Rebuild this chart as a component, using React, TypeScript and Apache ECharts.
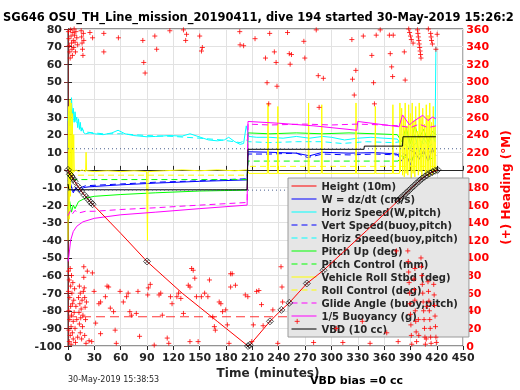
import React, { useEffect, useRef } from "react";
import * as echarts from "echarts";

// ---------- data (time in minutes) ----------
const depthProfile: [number, number][] = [
  [0, 0], [2, -2.5], [4, -3.5], [6, -5], [7.5, -6.5], [11.5, -9.5], [15, -12], [19, -14.5], [22.5, -16.5], [26, -18.5], [28, -19.5],
  [60, -36], [90, -52], [130, -70], [170, -86], [205, -100], [207, -99.5], [230, -86], [243, -79.5], [252, -75.5], [272, -64.5],
  [291, -57], [340, -34.5], [376, -17.5], [379, -16], [382, -14.6], [385, -13.2], [388, -11.8], [391, -10.4], [394, -9], [397, -7.6],
  [400, -6.3], [403, -5], [406, -3.9], [409, -2.9], [412, -2], [415, -1.2], [418, -0.5], [421, 0],
];
const gcTimes = [0, 2, 4, 6, 7.5, 11.5, 15, 19, 22.5, 26, 28, 90, 205, 207, 230, 243, 252, 272, 291, 376, 379, 382, 385, 388, 391, 394, 397, 400, 403, 406, 409, 412, 415, 418, 421];

const wSpeed: [number, number][] = [
  [0, 0], [3, -8], [6, -13], [9, -10], [13, -12.5], [18, -10], [24, -9.6], [60, -8.5], [100, -7.5], [150, -6.5], [204, -5.7],
  [205, 10.3], [230, 10], [260, 9.5], [275, 8], [290, 10], [320, 9.5], [350, 9.8], [375, 9], [380, 5], [385, 9], [390, 3],
  [395, 10], [400, 6], [405, 11], [410, 5], [415, 12], [419, 8],
];
const horizSpeedW: [number, number][] = [
  [0, 28], [1, 33], [2, 25], [3, 30], [4, 41], [5, 31], [6, 35], [7, 27], [8, 33], [9, 28], [10, 30], [11, 24], [12, 29], [13, 23],
  [14, 27], [15, 22], [16, 24], [18, 21], [20, 20.5], [25, 21], [30, 20.5], [40, 20], [50, 21], [57, 22.5], [65, 20.5], [75, 19.5],
  [90, 18.8], [100, 19], [115, 19.5], [130, 19.2], [139, 20.5], [148, 19], [160, 17], [170, 16.5], [178, 17], [183, 18.5],
  [190, 16], [196, 14.5], [200, 15], [203, 25], [206, 19], [215, 18.5], [230, 18.5], [245, 18], [260, 19], [275, 18], [290, 19],
  [300, 18.5], [315, 17], [330, 18], [345, 18.5], [360, 18], [375, 17.5], [380, 14], [385, 22], [390, 12], [395, 20], [400, 10],
  [405, 18], [410, 14], [415, 20], [418, 16], [419, 70],
];
const vertSpeedBuoy: [number, number][] = [
  [0, -6], [5, -12], [10, -11], [20, -9], [60, -8], [100, -7], [150, -6.2], [204, -5], [205, 9], [230, 9], [260, 9.5],
  [273, 7], [290, 9], [320, 8.5], [350, 9], [375, 8.5], [380, 10], [385, 8], [390, 11], [400, 9], [410, 10], [419, 11],
];
const horizSpeedBuoy: [number, number][] = [
  [0, 30], [3, 35], [6, 29], [10, 27], [14, 24], [20, 21.5], [40, 20.5], [60, 20.5], [90, 19.5], [120, 19], [150, 18],
  [175, 17], [196, 15.5], [204, 17], [206, 16], [230, 15.5], [260, 16], [290, 16], [312, 15], [340, 16], [370, 15.5],
  [380, 16], [390, 12], [400, 17], [410, 13], [419, 16],
];
const pitchUp: [number, number][] = [
  [0, -22], [2, -18], [4, -24], [6, -20], [8, -22], [12, -18], [20, -16], [30, -15], [60, -14], [100, -13], [150, -12],
  [204, -11.5], [205, 21], [230, 20.5], [260, 21], [290, 20.5], [320, 21], [350, 20.5], [375, 20], [380, 16], [385, 24],
  [390, 15], [395, 25], [400, 18], [405, 23], [410, 16], [415, 22], [419, 20],
];
const pitchControl: [number, number][] = [
  [0, -3], [2, -7], [5, -5.5], [204, -5.5], [205, 5], [376, 5], [380, 8], [390, 6], [400, 9], [410, 6], [419, 7],
];
const rollStbd: [number, number][] = [
  [0, -40], [0.7, 36], [1.4, -28], [2.1, 40], [2.8, -15], [3.5, 38], [4.2, -5], [4.9, 32], [5.6, -2], [6.5, 20], [7.2, -1],
  [9, 0], [12, -1], [16, 0], [20, -1], [20.6, 10], [21.2, -0.5], [30, -1], [45, -0.5], [60, -1], [75, -0.5], [89.5, -1],
  [90.5, -40], [91.2, -1], [110, -0.5], [130, 0], [150, -0.5], [170, 0], [190, -0.5], [204, 0], [206, -2], [227, -2],
  [227.8, 38], [228.5, -2], [238.5, -2], [239, 36], [239.6, -2], [273.5, -2], [274, 38], [274.6, -2], [288.5, -2], [289, 37],
  [289.6, -2], [327.5, -2], [328, 38], [328.6, -2], [349.5, -2], [350, 36], [350.6, -2], [369.5, -2], [370, 37], [370.6, -2],
  [377.5, -2], [378, 38], [378.6, -1], [380, 35], [381, -3], [382, 30], [383, -4], [384, 38], [385, -2], [386, 25], [387, -3],
  [388, 37], [389, 0], [390, 32], [391, -5], [392, 38], [393, -2], [394, 28], [395, -4], [396, 36], [397, 0], [398, 22],
  [399, -3], [400, 38], [401, -1], [402, 30], [403, -4], [404, 35], [405, 0], [406, 26], [407, -3], [408, 37], [409, -2],
  [410, 31], [411, -4], [412, 38], [413, 0], [414, 27], [415, -3], [416, 36], [417, -1], [418, 25], [419, -2],
];
const rollControl: [number, number][] = [[0, -3], [204, -3], [205, 2], [419, 2]];
const glideAngle: [number, number][] = [
  [0, -26], [3, -23], [5, -25], [8, -23], [12, -24.5], [20, -23.5], [30, -23.5], [60, -22.5], [100, -21.5], [150, -20],
  [204, -18.5], [205, 26], [230, 25.5], [270, 26], [300, 25.5], [330, 26], [360, 25.5], [378, 25], [390, 24], [400, 26],
  [410, 24], [419, 25],
];
const buoyancy: [number, number][] = [
  [0, -52], [1, -49], [3, -40], [6, -35], [10, -32], [17, -29.5], [30, -27.5], [60, -25.5], [100, -24], [150, -22],
  [204, -20], [205, 27.5], [240, 26.5], [280, 25], [329, 22.5], [330, 27.5], [377, 24.5], [381, 31.2], [389, 25.5],
  [392, 27], [404, 31], [410, 28], [415, 30], [419, 29],
];
const vbd: [number, number][] = [
  [0, -8], [1, -11.3], [204, -11.3], [205, 11.7], [337, 11.7], [337.5, 13.5], [381, 13.5], [381.5, 18.8], [419, 18.8],
];
const refDotUpper: [number, number][] = [[0, 12], [450, 12]];
const refDotLower: [number, number][] = [[0, -11.5], [450, -11.5]];
const refDashed: [number, number][] = [[0, -83.4], [425, -83.4]];

// heading (deg M) observations [time, heading]
const headingObs: [number, number][] = [
  [0.5, 357], [1, 349], [1.5, 341], [2, 334], [2.5, 327], [3, 359], [3.5, 352], [4, 344], [4.5, 337], [5, 330], [5.5, 356],
  [6, 347], [6.5, 339], [7, 360], [7.5, 353], [8, 345], [8.5, 334], [9, 357], [10, 350], [11, 342], [15, 358], [15.5, 351],
  [16, 344], [16.5, 337], [17, 330], [17.5, 355], [18, 347], [25, 356], [28, 350], [40.8, 355], [40.8, 334],
  [0.5, 85], [0.5, 62], [1, 40], [1, 18], [1.5, 75], [1.5, 5], [2, 55], [2, 30], [2.5, 88], [2.5, 12], [3, 68], [3, 45],
  [3.5, 22], [3.5, 2], [4, 80], [4, 35], [4.5, 60], [5, 15], [5, 48], [5.5, 72], [6, 28], [6, 8], [6.5, 52], [7, 38],
  [7.5, 65], [8, 20], [8.5, 4], [9, 45], [10, 30], [11, 10], [12, 55], [12.5, 38], [13, 68], [13, 25], [13.5, 48], [14, 15],
  [14, 60], [14.5, 32], [15, 42], [15.5, 8], [16, 52], [16.5, 22], [17, 35], [17.5, 62], [18, 90], [18, 78], [18.5, 66],
  [19, 55], [19, 12], [19.5, 44], [20, 30], [20.5, 3], [21, 50], [22, 85], [24, 6], [27, 5],
  [57.4, 350], [85.2, 347], [86.3, 322], [87.8, 310], [98.9, 352], [101, 337], [116, 358], [131.5, 359], [135, 354],
  [134, 347], [150, 352], [153, 339], [152, 335], [195.6, 357], [196, 342], [200, 341], [213, 349], [229.7, 355], [250, 356],
  [268.6, 346], [282.7, 359], [224.9, 327], [235, 334], [237, 322], [252, 332], [254.5, 331], [253, 320], [269.7, 327],
  [226.7, 299], [238, 295], [285, 307], [290.8, 304], [228.6, 275], [286, 271], [323.3, 348], [336.3, 352], [351, 353],
  [366, 353], [370.4, 353], [355.6, 359], [346, 330], [367, 332], [383, 334], [368.6, 317], [327.8, 313], [324, 303],
  [348, 299], [369.7, 306], [384, 302], [326, 285], [349, 275], [410.4, 360], [420.4, 354], [419, 337],
  [388, 360], [389, 356], [390, 352], [391, 348], [393, 344], [398, 359], [398.5, 355], [399, 351], [399.5, 347], [400, 343],
  [400.5, 339], [401, 335], [401.5, 331], [402, 327], [413, 355], [413.5, 351], [414, 347], [415, 343],
  [27.8, 83], [29.7, 62], [31.5, 26], [37.1, 14], [35.2, 48], [37.1, 50], [44.5, 68], [46.3, 67], [42.6, 56], [48.2, 43],
  [51.9, 39], [53.7, 18], [59.3, 62], [63, 50], [66.7, 56], [68.5, 60], [70.4, 39], [72.2, 35], [77.8, 37], [79.7, 62],
  [81.5, 11], [90.8, 58], [91.5, 66], [93.7, 70], [98.2, 1], [103.7, 58], [105.6, 60], [107.4, 35], [116.7, 56], [118.5, 48],
  [113, 9], [114.8, 3], [124, 56], [125.9, 60], [128.5, 54], [131.5, 37], [137, 69], [138.9, 67], [140.8, 88], [142.6, 86],
  [144.4, 77], [138.9, 5], [148.2, 5], [146.3, 56], [151.9, 56], [155.6, 60], [159.3, 56], [161.1, 75], [164.8, 33],
  [167.8, 18], [166.7, 22], [172.2, 50], [174.1, 48], [176, 39], [179.6, 41], [181.5, 24], [185.2, 82], [187, 82], [185.2, 67],
  [190.7, 69], [183.4, 3], [201.9, 58], [204.8, 56], [209.3, 5], [214.8, 62], [217.4, 63], [220.4, 47], [211.1, 24],
  [222.2, 23], [233.3, 41], [242.6, 90], [243.7, 67], [244.4, 50], [261, 28], [279.7, 4], [305.6, 20], [335.2, 28], [363, 15],
  [376, 5], [238.9, 3], [374, 108], [55, 3], [313, 4], [344, 3],
  [387, 108], [387.5, 96], [388, 84], [388.5, 72], [389, 60], [389.5, 48], [390, 36], [390.5, 24], [391, 12], [391.5, 2],
  [394, 76], [394.5, 64], [395, 52], [395.5, 40], [396, 28], [396.5, 16], [397, 5], [395, 88],
  [402, 100], [402.5, 90], [403, 80], [403.5, 70], [404, 60], [404.5, 50], [405, 40], [405.5, 30], [406, 20], [406.5, 10],
  [407, 2], [410, 73], [410.5, 62], [411, 51], [411.5, 40], [412, 30], [412.5, 20], [413, 10], [413.5, 3], [416.5, 70],
  [417, 58], [417.5, 46], [418, 34], [418.5, 22], [419, 10], [419.5, 4], [399, 30], [399.5, 12], [408.5, 45], [408, 8],
];

const FONT = "DejaVu Sans";
const DASH = [6, 4];

function lineSeries(name: string, data: [number, number][], color: string, dashed = false, z = 2) {
  return {
    type: "line",
    name,
    data,
    symbol: "none",
    showSymbol: false,
    silent: true,
    z,
    itemStyle: { color },
    lineStyle: { color, width: 1, type: dashed ? DASH : "solid" },
  };
}

const legendNames = [
  "Height (10m)", "W = dz/dt (cm/s)", "Horiz Speed(W,pitch)", "Vert Speed(buoy,pitch)", "Horiz Speed(buoy,pitch)",
  "Pitch Up (deg)", "Pitch Control (mm)", "Vehicle Roll Stbd (deg)", "Roll Control (deg)", "Glide Angle (buoy,pitch)",
  "1/5 Buoyancy (g)", "VBD (10 cc)",
];

export default function App() {
  const ref = useRef<HTMLDivElement>(null);
  useEffect(() => {
    const chart = echarts.init(ref.current!, null, { renderer: "svg" });
    const gcSet = new Set(gcTimes);
    const gcPoints = depthProfile.filter((p) => gcSet.has(p[0]));
    const labelStyle = { fontFamily: FONT, fontWeight: "bold" as const, fontSize: 11, color: "#262626" };
    const option: any = {
      animation: false,
      grid: { left: 68, right: 47, top: 29, bottom: 44, show: true, borderColor: "#262626", borderWidth: 1, backgroundColor: "#fff" },
      xAxis: [
        {
          type: "value", min: 0, max: 450, interval: 30,
          axisLine: { show: true, lineStyle: { color: "#262626" } },
          axisTick: { inside: true, length: 4, lineStyle: { color: "#262626" } },
          axisLabel: { ...labelStyle, margin: 6 },
          splitLine: { show: true, lineStyle: { color: "#e2e2e2", width: 1 } },
        },
        {
          type: "value", min: 0, max: 450, interval: 30, position: "top",
          axisLine: { show: false }, axisTick: { inside: true, length: 4, lineStyle: { color: "#262626" } },
          axisLabel: { show: false }, splitLine: { show: false },
        },
      ],
      yAxis: [
        {
          type: "value", min: -100, max: 80, interval: 10, position: "left",
          axisLine: { show: true, lineStyle: { color: "#262626" } },
          axisTick: { show: true, inside: true, length: 4, lineStyle: { color: "#262626" } },
          axisLabel: { ...labelStyle, margin: 6 },
          splitLine: { show: true, lineStyle: { color: "#e2e2e2", width: 1 } },
        },
        {
          type: "value", min: 0, max: 360, interval: 20, position: "right",
          axisLine: { show: true, lineStyle: { color: "#7a2a2a" } },
          axisTick: { show: true, inside: true, length: 4, lineStyle: { color: "#7a2a2a" } },
          axisLabel: { ...labelStyle, color: "#ff0000", margin: 3 },
          splitLine: { show: false },
          name: "(+) Heading (°M)", nameLocation: "middle", nameGap: 35, nameRotate: 90,
          nameTextStyle: { fontFamily: FONT, fontWeight: "bold", fontSize: 12, color: "#ff0000" },
        },
      ],
      legend: {
        data: legendNames,
        orient: "vertical",
        left: 288, top: 178,
        backgroundColor: "#e6e6e6",
        borderColor: "#9a9a9a", borderWidth: 1,
        padding: [2, 11, 2, 3],
        itemGap: 1, itemWidth: 25, itemHeight: 12,
        selectedMode: false,
        itemStyle: { color: "rgba(0,0,0,0)", borderColor: "rgba(0,0,0,0)", borderWidth: 0, opacity: 0 },
        lineStyle: { width: 1 },
        textStyle: { fontFamily: FONT, fontWeight: "bold", fontSize: 10, color: "#262626", lineHeight: 12 },
        z: 4,
      },
      series: [
        lineSeries("Height (10m)", depthProfile, "#ff0000", false, 5),
        lineSeries("W = dz/dt (cm/s)", wSpeed, "#0000ff"),
        lineSeries("Horiz Speed(W,pitch)", horizSpeedW, "#00ffff"),
        lineSeries("Vert Speed(buoy,pitch)", vertSpeedBuoy, "#0000ff", true),
        lineSeries("Horiz Speed(buoy,pitch)", horizSpeedBuoy, "#00ffff", true),
        lineSeries("Pitch Up (deg)", pitchUp, "#00ff00"),
        lineSeries("Pitch Control (mm)", pitchControl, "#00ff00", true),
        lineSeries("Vehicle Roll Stbd (deg)", rollStbd, "#ffff00"),
        lineSeries("Roll Control (deg)", rollControl, "#ffff00", true),
        lineSeries("Glide Angle (buoy,pitch)", glideAngle, "#ff00ff", true),
        lineSeries("1/5 Buoyancy (g)", buoyancy, "#ff00ff"),
        lineSeries("VBD (10 cc)", vbd, "#000000"),
        {
          type: "line", name: "refUpper", data: refDotUpper, symbol: "none", silent: true, z: 2,
          lineStyle: { color: "#4a5f8f", width: 1, type: [1, 3] },
        },
        {
          type: "line", name: "refLower", data: refDotLower, symbol: "none", silent: true, z: 2,
          lineStyle: { color: "#4a5f8f", width: 1, type: [1, 3] },
        },
        {
          type: "line", name: "refDashed", data: refDashed, symbol: "none", silent: true, z: 2,
          lineStyle: { color: "#ff0000", width: 0.8, type: [9, 5] },
        },
        {
          type: "scatter", name: "gc", data: gcPoints, silent: true, z: 6,
          symbol: "path://M5,0L10,5L5,10L0,5Z M2.5,2.5L7.5,7.5 M7.5,2.5L2.5,7.5",
          symbolSize: 7,
          itemStyle: { color: "rgba(0,0,0,0)", borderColor: "#000", borderWidth: 0.8 },
        },
        {
          type: "scatter", name: "heading", data: headingObs, yAxisIndex: 1, silent: true, z: 5,
          symbol: "path://M0,5L10,5M5,0L5,10",
          symbolSize: 5,
          itemStyle: { color: "rgba(0,0,0,0)", borderColor: "#ff0000", borderWidth: 1 },
        },
      ],
      graphic: [
        {
          type: "text", left: 3, top: 11, silent: true,
          style: { text: "SG646 OSU_TH_Line_mission_20190411, dive 194 started 30-May-2019 15:26:2", font: `bold 11.5px '${FONT}'`, fill: "#000" },
        },
        {
          type: "text", x: 268, y: 373, silent: true,
          style: { text: "Time (minutes)", font: `bold 12px '${FONT}'`, fill: "#262626", align: "center", verticalAlign: "middle" },
        },
        {
          type: "text", x: 68, y: 379, silent: true,
          style: { text: "30-May-2019 15:38:53", font: `8px '${FONT}'`, fill: "#262626", align: "left", verticalAlign: "middle" },
        },
        {
          type: "text", x: 310, y: 380, silent: true,
          style: { text: "VBD bias =0 cc", font: `bold 11px '${FONT}'`, fill: "#000", align: "left", verticalAlign: "middle" },
        },
      ],
    };
    chart.setOption(option);
    return () => chart.dispose();
  }, []);
  return <div ref={ref} style={{ position: "fixed", left: 0, top: 0, width: 520, height: 390 }} />;
}
